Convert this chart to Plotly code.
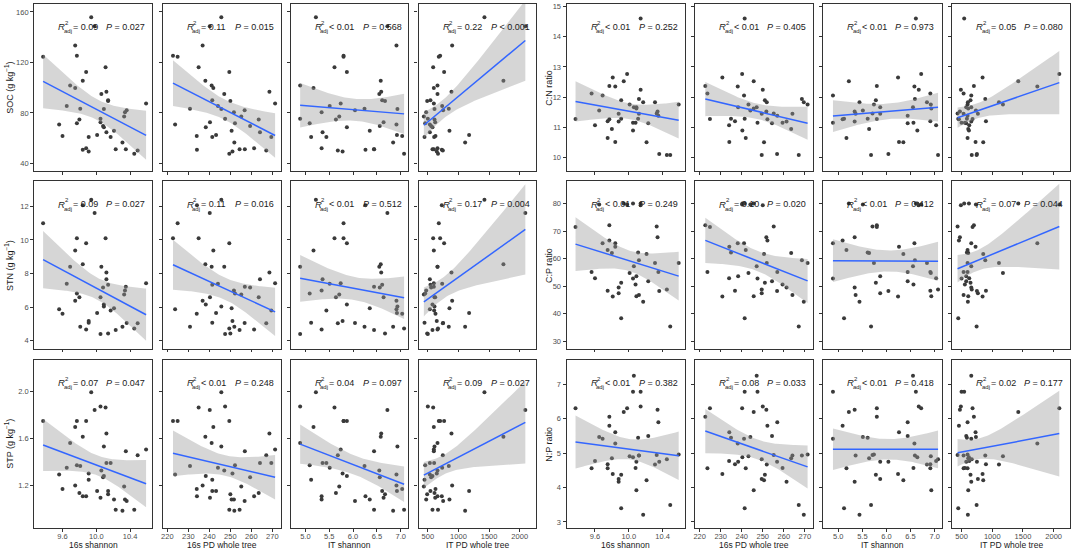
import numpy as np
import plotly.graph_objects as go

# ---- data: one entry per soil sample ----
shannon_16s = [9.37, 9.56, 9.60, 9.65, 9.69, 9.75, 9.75, 9.77, 9.77, 9.80, 9.81, 9.84, 9.84, 9.88,
               9.88, 9.91, 9.91, 9.94, 9.98, 10.01, 10.06, 10.09, 10.05, 10.05, 10.08, 10.09, 10.11,
               10.12, 10.14, 10.14, 10.12, 10.17, 10.21, 10.23, 10.31, 10.33, 10.34, 10.36, 10.35,
               10.45, 10.49, 10.59]
pd_16s = [224.9, 223.7, 234.0, 244.1, 241.1, 241.9, 236.8, 222.7, 252.2, 263.5, 230.8, 238.1, 234.1,
          249.5, 261.3, 251.0, 241.4, 245.7, 240.2, 243.2, 247.1, 245.7, 247.5, 240.3, 259.4, 238.3,
          234.9, 268.6, 241.4, 250.0, 264.1, 269.5, 250.6, 254.4, 251.9, 255.2, 251.7, 256.8, 256.9,
          249.5, 267.1, 271.3]
shannon_it = [5.80, 6.91, 7.03, 5.51, 4.89, 5.17, 6.91, 5.80, 5.09, 5.64, 6.24, 6.58, 6.26, 5.87,
              5.34, 5.78, 5.12, 5.22, 6.72, 6.92, 6.55, 6.93, 4.89, 6.64, 6.56, 5.87, 5.61, 6.59,
              6.61, 6.67, 5.36, 5.44, 6.35, 6.44, 6.84, 5.71, 5.34, 6.04, 6.44, 7.07, 5.68, 5.74]
pd_it = [679, 533, 625, 734, 658, 598, 897, 701, 457, 609, 842, 1734, 728, 766, 658, 646, 446, 1424,
         2092, 1174, 658, 609, 500, 620, 554, 576, 587, 886, 543, 489, 533, 603, 853, 576, 1109, 435,
         473, 750, 598, 666, 745, 598]

soc = [124.5, 70.8, 61.8, 85.5, 101.8, 99.7, 133.4, 125.3, 71.8, 74.7, 83.4, 105.5, 50.8, 112.4,
       52.1, 49.5, 61.0, 155.8, 148.7, 62.6, 95.0, 83.2, 75.3, 72.6, 69.7, 68.7, 116.1, 96.8, 90.0,
       89.5, 64.7, 61.0, 65.8, 51.3, 56.6, 77.1, 80.5, 82.1, 51.3, 47.6, 50.3, 87.4]
stn = [11.0, 5.88, 5.61, 7.39, 8.41, 9.37, 6.39, 10.1, 6.82, 6.59, 4.84, 8.55, 12.06, 9.8, 4.67,
       5.18, 5.08, 12.4, 11.6, 5.65, 8.41, 6.04, 4.41, 6.59, 7.18, 6.16, 10.1, 8.06, 7.33, 4.43, 7.67,
       5.8, 5.94, 4.65, 4.84, 6.76, 7.0, 5.06, 7.22, 4.73, 5.04, 7.43]
stp = [1.745, 1.293, 1.17, 1.35, 1.56, 1.695, 1.20, 1.745, 1.37, 1.135, 1.364, 1.613, 1.107, 1.745,
       1.107, 1.30, 1.248, 1.99, 1.84, 1.152, 1.327, 1.53, 1.87, 1.095, 1.27, 1.28, 1.86, 1.64, 1.152,
       1.124, 1.39, 1.39, 1.08, 0.994, 0.985, 1.19, 1.08, 1.067, 1.49, 0.994, 1.455, 1.505]
cn_ratio = [11.28, 12.12, 11.07, 11.56, 12.06, 10.65, 11.21, 12.37, 11.27, 10.95, 12.65, 12.35, 10.52,
            11.45, 11.2, 11.9, 11.29, 12.53, 12.77, 11.76, 11.67, 11.63, 11.16, 10.9, 11.16, 11.67,
            11.29, 11.94, 14.6, 12.25, 11.45, 11.83, 10.51, 11.14, 11.83, 11.46, 11.53, 10.12, 11.39,
            10.09, 10.09, 11.76]
cp_ratio = [71.6, 55.2, 52.9, 79.8, 65.6, 63.2, 48.3, 72.2, 66.6, 62.1, 46.2, 65.6, 64.4, 47.4, 49.5,
            51.2, 38.3, 80.1, 79.8, 54.8, 57.3, 46.3, 52.8, 80.1, 50.6, 53.6, 62.3, 59.4, 80.1, 79.5,
            46.8, 44.3, 61.7, 51.8, 58.4, 71.7, 67.8, 48.2, 55.2, 48.8, 35.3, 58.4]
np_ratio = [6.31, 4.56, 4.77, 5.47, 5.42, 4.56, 4.68, 6.06, 5.80, 4.85, 4.39, 5.28, 5.61, 4.25, 4.17,
            4.37, 3.40, 6.20, 6.31, 4.91, 7.25, 3.92, 6.79, 4.88, 4.57, 4.75, 5.45, 4.93, 6.79, 6.36,
            4.93, 3.21, 4.21, 5.50, 4.67, 4.95, 6.26, 4.75, 5.90, 4.82, 3.49, 4.96]

x_titles = ["16s shannon", "16s PD whole tree", "IT shannon", "IT PD whole tree"]
x_ticks = [[9.6, 10.0, 10.4], [220, 230, 240, 250, 260, 270], [5.0, 5.5, 6.0, 6.5, 7.0],
           [500, 1000, 1500, 2000]]
x_ticktext = [["9.6", "10.0", "10.4"], ["220", "230", "240", "250", "260", "270"],
              ["5.0", "5.5", "6.0", "6.5", "7.0"], ["500", "1000", "1500", "2000"]]

y_titles = ["SOC (g kg<sup>\u22121</sup>)", "STN (g kg<sup>\u22121</sup>)", "STP (g kg<sup>\u22121</sup>)",
            "C:N ratio", "C:P ratio", "N:P ratio"]
y_ticks = [[40, 80, 120, 160], [4, 6, 8, 10, 12], [1.2, 1.6, 2.0],
           [10, 11, 12, 13, 14, 15], [30, 40, 50, 60, 70, 80], [3, 4, 5, 6, 7]]
y_ticktext = [["40", "80", "120", "160"], ["4", "6", "8", "10", "12"], ["1.2", "1.6", "2.0"],
              ["10", "11", "12", "13", "14", "15"], ["30", "40", "50", "60", "70", "80"],
              ["3", "4", "5", "6", "7"]]

r2_text = [["= 0.09", "= 0.11", "< 0.01", "= 0.22"],
           ["= 0.09", "= 0.11", "< 0.01", "= 0.17"],
           ["= 0.07", "< 0.01", "= 0.04", "= 0.09"],
           ["< 0.01", "< 0.01", "< 0.01", "= 0.05"],
           ["< 0.01", "= 0.10", "< 0.01", "= 0.07"],
           ["< 0.01", "= 0.08", "< 0.01", "= 0.02"]]
p_text = [["= 0.027", "= 0.015", "= 0.568", "< 0.001"],
          ["= 0.027", "= 0.016", "= 0.512", "= 0.004"],
          ["= 0.047", "= 0.248", "= 0.097", "= 0.027"],
          ["= 0.252", "= 0.405", "= 0.973", "= 0.080"],
          ["= 0.249", "= 0.020", "= 0.412", "= 0.044"],
          ["= 0.382", "= 0.033", "= 0.418", "= 0.177"]]

x_data = [shannon_16s, pd_16s, shannon_it, pd_it]
y_data = [soc, stn, stp, cn_ratio, cp_ratio, np_ratio]

# ---- layout geometry (pixels) ----
W, H = 1072, 549
col_px = [[(32.3, 150.7), (161, 279.5), (289.3, 407), (417.3, 535)],
          [(565.7, 684.3), (694.3, 813), (823, 942), (952, 1070)]]
row_px = [(2, 170), (180, 348), (359, 528)]
x_ranges = [[9.265, 10.665], [217.8, 274.1], [4.693, 7.157], [348, 2266]]
y_ranges = [[33.7, 166.3], [3.53, 13.49], [0.838, 2.266], [9.55, 15.08], [27.2, 88.2], [2.82, 7.72]]

FONT = "Liberation Sans, Arial, sans-serif"
AX = "#333333"
TICKC = "#4d4d4d"


def lm_band(x, y, n=80):
    x = np.asarray(x, float)
    y = np.asarray(y, float)
    b1, b0 = np.polyfit(x, y, 1)
    xs = np.linspace(x.min(), x.max(), n)
    fit = b0 + b1 * xs
    resid = y - (b0 + b1 * x)
    df = len(x) - 2
    s = np.sqrt(np.sum(resid ** 2) / df)
    sxx = np.sum((x - x.mean()) ** 2)
    se = s * np.sqrt(1.0 / len(x) + (xs - x.mean()) ** 2 / sxx)
    z = 1.959964
    t = z + (z ** 3 + z) / (4 * df) + (5 * z ** 5 + 16 * z ** 3 + 3 * z) / (96 * df ** 2)
    return xs, fit, fit - t * se, fit + t * se


fig = go.Figure()
annotations = []
layout = {}

for v in range(6):
    block, row = v // 3, v % 3
    y0, y1 = row_px[row]
    for c in range(4):
        i = v * 4 + c + 1
        xname = "x" if i == 1 else f"x{i}"
        yname = "y" if i == 1 else f"y{i}"
        x0, x1 = col_px[block][c]

        layout["xaxis" if i == 1 else f"xaxis{i}"] = dict(
            domain=[x0 / W, x1 / W], anchor=yname, range=x_ranges[c],
            tickvals=x_ticks[c], ticktext=x_ticktext[c], showticklabels=(row == 2),
            ticks="outside", ticklen=2.5, tickwidth=0.8, tickcolor=AX,
            ticklabelstandoff=-2,
            showline=True, mirror=True, linecolor=AX, linewidth=1.2,
            showgrid=False, zeroline=False,
            tickfont=dict(family=FONT, size=7.5, color=TICKC))
        layout["yaxis" if i == 1 else f"yaxis{i}"] = dict(
            domain=[1 - y1 / H, 1 - y0 / H], anchor=xname, range=y_ranges[v],
            tickvals=y_ticks[v], ticktext=y_ticktext[v], showticklabels=(c == 0),
            ticks="outside", ticklen=3, tickwidth=0.8, tickcolor=AX,
            showline=True, mirror=True, linecolor=AX, linewidth=1.2,
            showgrid=False, zeroline=False,
            tickfont=dict(family=FONT, size=7.5, color=TICKC))

        xs, fit, lo, hi = lm_band(x_data[c], y_data[v])

        fig.add_trace(go.Scatter(
            x=x_data[c], y=y_data[v], mode="markers", xaxis=xname, yaxis=yname,
            marker=dict(size=4, color="#3a3a3a"), showlegend=False, hoverinfo="skip"))
        fig.add_trace(go.Scatter(
            x=np.concatenate([xs, xs[::-1]]), y=np.concatenate([hi, lo[::-1]]),
            mode="lines", fill="toself", fillcolor="rgba(153,153,153,0.4)",
            line=dict(width=0), xaxis=xname, yaxis=yname, showlegend=False, hoverinfo="skip"))
        fig.add_trace(go.Scatter(
            x=xs, y=fit, mode="lines", line=dict(color="#3366ff", width=1.5),
            xaxis=xname, yaxis=yname, showlegend=False, hoverinfo="skip"))

        # stats label: R^2_adj  ...   P ...
        base = dict(xref=f"{xname} domain", yref=f"{yname} domain", x=0, y=1,
                    xanchor="left", yanchor="middle", showarrow=False)
        pieces = [("<i>R</i>", 9.5, 22, -23),
                  ("2", 6, 28.6, -19),
                  ("adj", 6, 27.6, -27.5),
                  (r2_text[v][c], 9, 36.5, -23),
                  ("<i>P</i> " + p_text[v][c], 9, 70, -23)]
        for txt, size, dx, dy in pieces:
            a = dict(base)
            a.update(text=txt, xshift=dx, yshift=dy,
                     font=dict(family=FONT, size=size, color="#1a1a1a"))
            annotations.append(a)

        if row == 2:
            annotations.append(dict(
                xref="paper", yref="paper", x=(x0 + x1) / 2 / W, y=1 - 544.8 / H,
                xanchor="center", yanchor="middle", showarrow=False, text=x_titles[c],
                font=dict(family=FONT, size=8.5, color="#1a1a1a")))

    ty = (y0 + y1) / 2
    tx = 7 if block == 0 else 548
    annotations.append(dict(
        xref="paper", yref="paper", x=tx / W, y=1 - ty / H, xanchor="center", yanchor="middle",
        showarrow=False, textangle=-90, text=y_titles[v],
        font=dict(family=FONT, size=9, color="#1a1a1a")))

fig.update_layout(**layout)
fig.update_layout(
    width=W, height=H, margin=dict(l=0, r=0, t=0, b=0),
    paper_bgcolor="white", plot_bgcolor="white",
    annotations=annotations, showlegend=False)

fig.write_html("out.html", config={"displayModeBar": False},
               post_script="document.body.style.margin='0';"
                           "document.body.style.overflow='hidden';")
